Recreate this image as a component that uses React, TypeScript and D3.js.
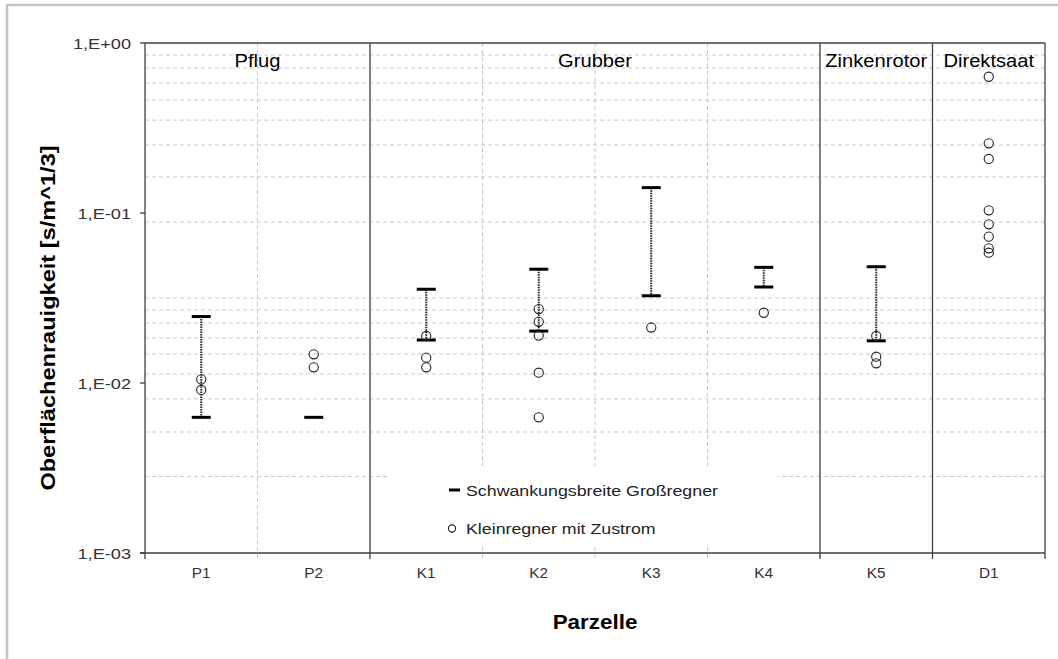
import React from "react";
import * as d3 from "d3";

const categories = ["P1", "P2", "K1", "K2", "K3", "K4", "K5", "D1"];
const groupNames = ["Pflug", "Grubber", "Zinkenrotor", "Direktsaat"];
const groupSizes = [2, 4, 1, 1];
const rangeLow: (number | null)[] = [0.00628, 0.00628, 0.0179, 0.0202, 0.0326, 0.0367, 0.0177, null];
const rangeHigh: (number | null)[] = [0.0246, null, 0.0356, 0.0467, 0.141, 0.0479, 0.0483, null];
const smallSprinkler: number[][] = [
  [0.0105, 0.0091],
  [0.01475, 0.01237],
  [0.0189, 0.0141, 0.01237],
  [0.0272, 0.0229, 0.019, 0.0115, 0.00628],
  [0.0212],
  [0.0259],
  [0.0189, 0.01428, 0.01306],
  [0.633, 0.257, 0.208, 0.1037, 0.0858, 0.0726, 0.062, 0.0584],
];
const yTicks = [1e-3, 1e-2, 1e-1, 1];
const yTickLabels = ["1,E-03", "1,E-02", "1,E-01", "1,E+00"];
const gridValues = [
  0.85, 0.713, 0.582, 0.462, 0.352, 0.251, 0.163, 0.0885,
  0.0316, 0.0269, 0.0225, 0.0184, 0.0148, 0.0113, 0.00806, 0.00515, 0.00282,
];
const legendLabels = ["Schwankungsbreite Großregner", "Kleinregner mit Zustrom"];
const yTitle = "Oberflächenrauigkeit [s/m^1/3]";
const xTitle = "Parzelle";

const W = 1058;
const H = 659;
const left = 145, right = 1045, top = 43, bottom = 553;
const FONT = "'Liberation Sans', Arial, sans-serif";

function SText({ x, y, sx = 1, size, anchor = "middle", weight = "normal", fill = "#000", rotate = 0, children }: any) {
  return (
    <text
      transform={`translate(${x},${y}) rotate(${rotate}) scale(${sx},1)`}
      fontSize={size}
      fontFamily={FONT}
      fontWeight={weight}
      textAnchor={anchor}
      fill={fill}
    >
      {children}
    </text>
  );
}

export default function App() {
  const x = d3.scaleBand<string>().domain(categories).range([left, right]).paddingInner(0).paddingOuter(0);
  const y = d3.scaleLog().domain([1e-3, 1]).range([bottom, top]);
  const bw = x.bandwidth();

  // group boundaries
  const separators: number[] = [];
  const groupCenters: number[] = [];
  let idx = 0;
  groupSizes.forEach((s, i) => {
    const start = x(categories[idx])!;
    const end = start + s * bw;
    groupCenters.push((start + end) / 2);
    if (i < groupSizes.length - 1) separators.push(end);
    idx += s;
  });
  const boundaries = categories.slice(1).map((c) => x(c)!);
  const dashedBoundaries = boundaries.filter((b) => !separators.some((s) => Math.abs(s - b) < 0.5));

  const legendBox = { x0: 390, x1: 778, y0: 466, y1: 546 };

  return (
    <svg width={W} height={H} style={{ position: "absolute", left: 0, top: 0, background: "#fff" }}>
      <rect x={0} y={0} width={W} height={H} fill="#fff" />
      <rect x={7} y={5} width={W + 20} height={H + 20} fill="none" stroke="#c4c4c4" strokeWidth={2.5} />

      {/* horizontal gridlines */}
      {gridValues.map((g, i) => (
        <line key={"hg" + i} x1={left} x2={right} y1={y(g)} y2={y(g)} stroke="#c8c8c8" strokeWidth={1} strokeDasharray="4,3" />
      ))}
      {/* vertical dashed gridlines */}
      {dashedBoundaries.map((b, i) => (
        <line key={"vg" + i} x1={b} x2={b} y1={top} y2={bottom + 6} stroke="#c8c8c8" strokeWidth={1} strokeDasharray="4,3" />
      ))}

      {/* legend background */}
      <rect x={legendBox.x0} y={legendBox.y0} width={legendBox.x1 - legendBox.x0} height={legendBox.y1 - legendBox.y0} fill="#fff" />

      {/* separators */}
      {separators.map((s, i) => (
        <line key={"sep" + i} x1={s} x2={s} y1={top} y2={bottom + 6} stroke="#404040" strokeWidth={1.3} />
      ))}

      {/* plot frame */}
      <line x1={left} x2={right} y1={top} y2={top} stroke="#404040" strokeWidth={1.3} />
      <line x1={right} x2={right} y1={top} y2={bottom + 6} stroke="#404040" strokeWidth={1.3} />
      <line x1={left} x2={left} y1={top} y2={bottom + 6} stroke="#404040" strokeWidth={1.3} />
      <line x1={left - 5} x2={right} y1={bottom} y2={bottom} stroke="#404040" strokeWidth={1.5} />

      {/* y ticks */}
      {yTicks.map((t, i) => (
        <g key={"yt" + i}>
          <line x1={left - 5} x2={left} y1={y(t)} y2={y(t)} stroke="#404040" strokeWidth={1.3} />
          <SText x={131} y={y(t) + 5.6} sx={1.18} size={15.4} anchor="end" fill="#333">
            {yTickLabels[i]}
          </SText>
        </g>
      ))}

      {/* category labels */}
      {categories.map((c) => (
        <SText key={"cl" + c} x={x(c)! + bw / 2} y={578} sx={1.1} size={14} fill="#333">
          {c}
        </SText>
      ))}

      {/* group labels */}
      {groupNames.map((g, i) => (
        <SText key={"gl" + g} x={groupCenters[i]} y={67.3} sx={1.09} size={18.5}>
          {g}
        </SText>
      ))}

      {/* range bars */}
      {categories.map((c, i) => {
        const cx = x(c)! + bw / 2;
        const lo = rangeLow[i];
        const hi = rangeHigh[i];
        return (
          <g key={"rb" + c}>
            {lo != null && hi != null && (
              <line x1={cx} x2={cx} y1={y(hi)} y2={y(lo)} stroke="#222" strokeWidth={2} strokeDasharray="1.5,1" />
            )}
            {lo != null && <line x1={cx - 9.5} x2={cx + 9.5} y1={y(lo)} y2={y(lo)} stroke="#000" strokeWidth={3} />}
            {hi != null && <line x1={cx - 9.5} x2={cx + 9.5} y1={y(hi)} y2={y(hi)} stroke="#000" strokeWidth={3} />}
          </g>
        );
      })}

      {/* small sprinkler points */}
      {categories.map((c, i) => {
        const cx = x(c)! + bw / 2;
        return (
          <g key={"pts" + c}>
            {smallSprinkler[i].map((v, j) => (
              <circle key={j} cx={cx} cy={y(v)} r={4.6} fill="none" stroke="#222" strokeWidth={1.1} />
            ))}
          </g>
        );
      })}

      {/* legend */}
      <line x1={449} x2={460} y1={490} y2={490} stroke="#000" strokeWidth={3} />
      <SText x={466} y={496} sx={1.155} size={15.4} anchor="start" fill="#222">
        {legendLabels[0]}
      </SText>
      <circle cx={452} cy={528.5} r={3.6} fill="none" stroke="#222" strokeWidth={1.1} />
      <SText x={466} y={534} sx={1.155} size={15.4} anchor="start" fill="#222">
        {legendLabels[1]}
      </SText>

      {/* axis titles */}
      <SText x={(left + right) / 2} y={629} sx={1.15} size={19.5} weight="bold">
        {xTitle}
      </SText>
      <SText x={55} y={318} sx={1.21} size={19.5} weight="bold" rotate={-90}>
        {yTitle}
      </SText>
    </svg>
  );
}
